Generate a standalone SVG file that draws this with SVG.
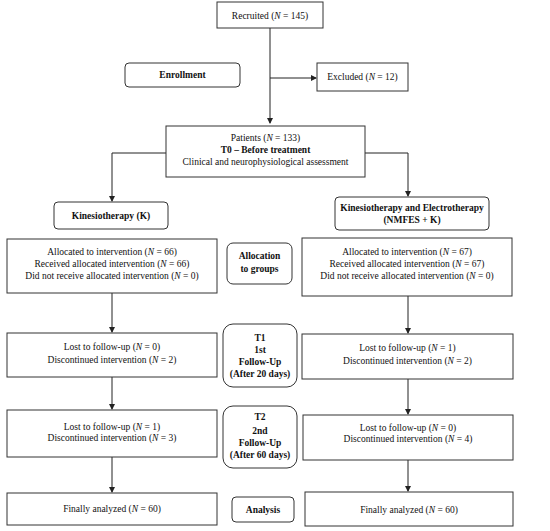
<svg xmlns="http://www.w3.org/2000/svg" width="550" height="531" viewBox="0 0 550 531">
<defs>
<marker id="ah" markerWidth="6" markerHeight="6" refX="5" refY="3" orient="auto" markerUnits="userSpaceOnUse">
<path d="M0,0 L6,3 L0,6 Z" fill="#222"/>
</marker>
<style>
.box{fill:#fff;stroke:#333;stroke-width:1}
.rbox{fill:#fff;stroke:#333;stroke-width:1}
text{font-family:"Liberation Serif","Times New Roman",serif;font-size:9.5px;fill:#111;text-anchor:middle}
.b{font-weight:bold}
.i{font-style:italic}
.ln{fill:none;stroke:#222;stroke-width:1}
</style>
</defs>
<rect width="550" height="531" fill="#fff"/>
<g id="connectors">
<path class="ln" d="M270,28 V123" marker-end="url(#ah)"/>
<path class="ln" d="M270,78 H316" marker-end="url(#ah)"/>
<path class="ln" d="M166,153 H112 V201" marker-end="url(#ah)"/>
<path class="ln" d="M365,153 H408 V196" marker-end="url(#ah)"/>
<path class="ln" d="M112,293 V332" marker-end="url(#ah)"/>
<path class="ln" d="M408,296 V333" marker-end="url(#ah)"/>
<path class="ln" d="M112,377 V409" marker-end="url(#ah)"/>
<path class="ln" d="M408,379 V414" marker-end="url(#ah)"/>
<path class="ln" d="M112,457 V492" marker-end="url(#ah)"/>
<path class="ln" d="M408,460 V491" marker-end="url(#ah)"/>
</g>
<g id="recruited">
<rect class="box" x="217" y="2" width="106" height="26"/>
<text x="270" y="18.5">Recruited (<tspan class="i">N</tspan> = 145)</text>
</g>
<g id="enrollment">
<rect class="rbox" x="125" y="63" width="115" height="24" rx="4"/>
<text class="b" x="182.5" y="78">Enrollment</text>
</g>
<g id="excluded">
<rect class="box" x="317" y="63" width="91" height="28"/>
<text x="362.5" y="80">Excluded (<tspan class="i">N</tspan> = 12)</text>
</g>
<g id="patients">
<rect class="box" x="166" y="126" width="199" height="51"/>
<text x="265.5" y="141">Patients (<tspan class="i">N</tspan> = 133)</text>
<text class="b" x="265.5" y="153">T0 – Before treatment</text>
<text x="265.5" y="165">Clinical and neurophysiological assessment</text>
</g>
<g id="kinesio">
<rect class="rbox" x="54" y="202" width="114" height="27" rx="4"/>
<text class="b" x="111" y="219">Kinesiotherapy (K)</text>
</g>
<g id="kinesio-electro">
<rect class="rbox" x="335" y="197" width="154" height="33" rx="4"/>
<text class="b" x="412" y="210.5">Kinesiotherapy and Electrotherapy</text>
<text class="b" x="412" y="222.5">(NMFES + K)</text>
</g>
<g id="alloc-left">
<rect class="box" x="7" y="239" width="210" height="54"/>
<text x="112" y="255">Allocated to intervention (<tspan class="i">N</tspan> = 66)</text>
<text x="112" y="267">Received allocated intervention (<tspan class="i">N</tspan> = 66)</text>
<text x="112" y="279">Did not receive allocated intervention (<tspan class="i">N</tspan> = 0)</text>
</g>
<g id="alloc-label">
<rect class="rbox" x="227" y="243" width="65" height="41" rx="6"/>
<text class="b" x="259.5" y="258.5">Allocation</text>
<text class="b" x="259.5" y="271.5">to groups</text>
</g>
<g id="alloc-right">
<rect class="box" x="302" y="238" width="210" height="58"/>
<text x="407" y="254.5">Allocated to intervention (<tspan class="i">N</tspan> = 67)</text>
<text x="407" y="266.5">Received allocated intervention (<tspan class="i">N</tspan> = 67)</text>
<text x="407" y="278.5">Did not receive allocated intervention (<tspan class="i">N</tspan> = 0)</text>
</g>
<g id="t1-left">
<rect class="box" x="7" y="333" width="210" height="44"/>
<text x="112" y="350">Lost to follow-up (<tspan class="i">N</tspan> = 0)</text>
<text x="112" y="363">Discontinued intervention (<tspan class="i">N</tspan> = 2)</text>
</g>
<g id="t1-label">
<rect class="rbox" x="223" y="324" width="74" height="63" rx="10"/>
<text class="b" x="260" y="341">T1</text>
<text class="b" x="260" y="353">1st</text>
<text class="b" x="260" y="365">Follow-Up</text>
<text class="b" x="260" y="377">(After 20 days)</text>
</g>
<g id="t1-right">
<rect class="box" x="302" y="334" width="211" height="45"/>
<text x="407.5" y="351">Lost to follow-up (<tspan class="i">N</tspan> = 1)</text>
<text x="407.5" y="364">Discontinued intervention (<tspan class="i">N</tspan> = 2)</text>
</g>
<g id="t2-left">
<rect class="box" x="7" y="410" width="210" height="47"/>
<text x="112" y="430">Lost to follow-up (<tspan class="i">N</tspan> = 1)</text>
<text x="112" y="441">Discontinued intervention (<tspan class="i">N</tspan> = 3)</text>
</g>
<g id="t2-label">
<rect class="rbox" x="223" y="406" width="74" height="62" rx="10"/>
<text class="b" x="260" y="420">T2</text>
<text class="b" x="260" y="434">2nd</text>
<text class="b" x="260" y="446">Follow-Up</text>
<text class="b" x="260" y="458">(After 60 days)</text>
</g>
<g id="t2-right">
<rect class="box" x="303" y="415" width="210" height="45"/>
<text x="408" y="431">Lost to follow-up (<tspan class="i">N</tspan> = 0)</text>
<text x="408" y="442">Discontinued intervention (<tspan class="i">N</tspan> = 4)</text>
</g>
<g id="final-left">
<rect class="box" x="7" y="493" width="210" height="32"/>
<text x="112" y="512">Finally analyzed (<tspan class="i">N</tspan> = 60)</text>
</g>
<g id="analysis">
<rect class="rbox" x="232" y="497" width="62" height="25" rx="4"/>
<text class="b" x="263" y="512.5">Analysis</text>
</g>
<g id="final-right">
<rect class="box" x="305" y="492" width="208" height="34"/>
<text x="409" y="513">Finally analyzed (<tspan class="i">N</tspan> = 60)</text>
</g>
</svg>
